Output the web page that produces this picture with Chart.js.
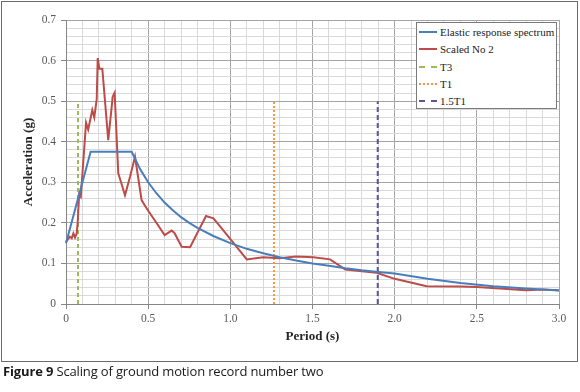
<!DOCTYPE html>
<html>
<head>
<meta charset="utf-8">
<script src="https://cdn.jsdelivr.net/npm/chart.js@4.4.1/dist/chart.umd.min.js"></script>
<style>
    body { margin: 0; background: #fff; }
    #wrap { position: relative; width: 580px; height: 392px; }
    #frame { position: absolute; left: 1px; top: 1px; width: 575px; height: 359px; border: 1px solid #6b6b6b; }
    #chart { position: absolute; left: 0; top: 0; }
    #legend { position: absolute; left: 416px; top: 22px; width: 139px; height: 85px; border: 1px solid #7a7a7a; background: #fff;
        font-family: 'Liberation Serif', serif; font-size: 11px; color: #222; }
    .row { position: absolute; left: 2px; height: 14px; line-height: 14px; white-space: nowrap; }
    .swatch { position: absolute; left: 0; top: 6px; width: 18px; height: 0; border-top-width: 2px; }
    .row span { position: absolute; left: 21px; }
    #caption { position: absolute; left: 3px; top: 362px; font-family: 'Open Sans', sans-serif; font-size: 13px; letter-spacing: -0.15px; color: #1a1a1a; white-space: nowrap; }
</style>
</head>
<body>
<div id="wrap">
    <div id="frame"></div>
    <canvas id="chart" width="580" height="392"></canvas>
    <div id="legend"></div>
    <div id="caption"><b>Figure 9</b> Scaling of ground motion record number two</div>
</div>
<script>
// elastic design spectrum
const elasticT = [0, 0.15, 0.4, 0.45, 0.5, 0.55, 0.6, 0.65, 0.7, 0.75, 0.8, 0.9, 1.0, 1.1, 1.2, 1.3, 1.4, 1.5, 1.6, 1.7, 1.8, 1.9, 2.0, 2.2, 2.4, 2.6, 2.8, 3.0];
const elasticSa = [0.15, 0.375, 0.375, 0.333, 0.30, 0.273, 0.25, 0.231, 0.214, 0.20, 0.1875, 0.167, 0.15, 0.136, 0.125, 0.115, 0.107, 0.10, 0.094, 0.088, 0.083, 0.079, 0.075, 0.062, 0.052, 0.044, 0.038, 0.033];

// scaled record no 2
const scaledT = [0, 0.024, 0.035, 0.045, 0.055, 0.065, 0.071, 0.08, 0.09, 0.122, 0.135, 0.16, 0.172, 0.187, 0.193, 0.203, 0.221, 0.257, 0.278, 0.284, 0.296, 0.318, 0.335, 0.359, 0.39, 0.42, 0.46, 0.49, 0.552, 0.60, 0.643, 0.66, 0.704, 0.755, 0.852, 0.897, 0.94, 1.03, 1.10, 1.20, 1.30, 1.40, 1.505, 1.607, 1.70, 1.89, 2.0, 2.195, 2.4, 2.5, 2.8, 2.9, 3.0];
const scaledSa = [0.153, 0.166, 0.162, 0.174, 0.164, 0.174, 0.2, 0.27, 0.264, 0.447, 0.43, 0.478, 0.46, 0.505, 0.606, 0.58, 0.58, 0.404, 0.486, 0.511, 0.521, 0.322, 0.30, 0.268, 0.314, 0.363, 0.256, 0.236, 0.199, 0.17, 0.181, 0.175, 0.141, 0.14, 0.217, 0.211, 0.19, 0.145, 0.110, 0.115, 0.113, 0.117, 0.115, 0.110, 0.085, 0.077, 0.062, 0.044, 0.043, 0.042, 0.034, 0.036, 0.034];

// period markers
const markerNames = ['T3', 'T1', '1.5T1'];
const markerT = [0.073, 1.266, 1.897];
const markerTop = 0.5;

const xTickLabels = ['0', '0.5', '1.0', '1.5', '2.0', '2.5', '3.0'];
const yTickLabels = ['0', '0.1', '0.2', '0.3', '0.4', '0.5', '0.6', '0.7'];

const blue = '#4a7ebb';
const red = '#be4b48';
const markerColors = ['#9bbb59', '#f79646', '#5f5394'];
const markerDash = [[4, 3], [2, 2], [5, 3]];

const serif = "'Liberation Serif', serif";
const majorGrid = '#a5a5a5';
const minorGrid = '#d9d9d9';

function isMultiple(v, step) {
    const r = v / step;
    return Math.abs(r - Math.round(r)) < 1e-6;
}

const datasets = [
    {
        label: 'Elastic response spectrum',
        data: elasticT.map((t, i) => ({ x: t, y: elasticSa[i] })),
        borderColor: blue,
        borderWidth: 2,
    },
    {
        label: 'Scaled No 2',
        data: scaledT.map((t, i) => ({ x: t, y: scaledSa[i] })),
        borderColor: red,
        borderWidth: 2,
    },
];
markerNames.forEach((name, i) => {
    datasets.push({
        label: name,
        data: [{ x: markerT[i], y: 0 }, { x: markerT[i], y: markerTop }],
        borderColor: markerColors[i],
        borderWidth: 2,
        borderDash: markerDash[i],
    });
});

new Chart(document.getElementById('chart'), {
    type: 'line',
    data: { datasets: datasets },
    options: {
        responsive: false,
        animation: false,
        clip: false,
        layout: { padding: { left: 0, top: 20, right: 21, bottom: 47 } },
        datasets: {
            line: { pointRadius: 0, tension: 0, fill: false },
        },
        plugins: {
            legend: { display: false },
            tooltip: { enabled: false },
        },
        scales: {
            x: {
                type: 'linear',
                min: 0,
                max: 3,
                afterFit: (scale) => { scale.height = 41; },
                border: { color: '#868686', width: 1 },
                grid: {
                    color: (ctx) => isMultiple(ctx.tick.value, 0.5) ? majorGrid : minorGrid,
                    tickColor: (ctx) => isMultiple(ctx.tick.value, 0.5) ? '#868686' : 'rgba(0,0,0,0)',
                    tickLength: 5,
                },
                ticks: {
                    stepSize: 0.1,
                    autoSkip: false,
                    maxTicksLimit: 100,
                    maxRotation: 0,
                    padding: 3,
                    color: '#595959',
                    font: { family: serif, size: 11.5 },
                    callback: (v) => isMultiple(v, 0.5) ? xTickLabels[Math.round(v / 0.5)] : '',
                },
                title: {
                    display: true,
                    text: 'Period (s)',
                    color: '#262626',
                    padding: { top: 0, bottom: 1 },
                    font: { family: serif, size: 13, weight: 'bold' },
                },
            },
            y: {
                min: 0,
                max: 0.7,
                afterFit: (scale) => { scale.width = 66; },
                border: { color: '#868686', width: 1 },
                grid: {
                    color: (ctx) => isMultiple(ctx.tick.value, 0.1) ? majorGrid : minorGrid,
                    tickColor: (ctx) => isMultiple(ctx.tick.value, 0.1) ? '#868686' : 'rgba(0,0,0,0)',
                    tickLength: 5,
                },
                ticks: {
                    stepSize: 0.02,
                    autoSkip: false,
                    maxTicksLimit: 100,
                    padding: 5,
                    color: '#595959',
                    font: { family: serif, size: 11.5 },
                    callback: (v) => isMultiple(v, 0.1) ? yTickLabels[Math.round(v / 0.1)] : '',
                },
                title: {
                    display: true,
                    text: 'Acceleration (g)',
                    color: '#262626',
                    padding: { top: 21, bottom: 0 },
                    font: { family: serif, size: 13, weight: 'bold' },
                },
            },
        },
    },
});

// html legend box, built from the same datasets
const legendBox = document.getElementById('legend');
datasets.forEach((ds, i) => {
    const row = document.createElement('div');
    row.className = 'row';
    row.style.top = (2 + i * 17.3) + 'px';
    const sw = document.createElement('div');
    sw.className = 'swatch';
    const dash = ds.borderDash;
    sw.style.borderTopStyle = dash ? (dash[0] <= 2 ? 'dotted' : 'dashed') : 'solid';
    sw.style.borderTopColor = ds.borderColor;
    const txt = document.createElement('span');
    txt.textContent = ds.label;
    row.appendChild(sw);
    row.appendChild(txt);
    legendBox.appendChild(row);
});
</script>
</body>
</html>
